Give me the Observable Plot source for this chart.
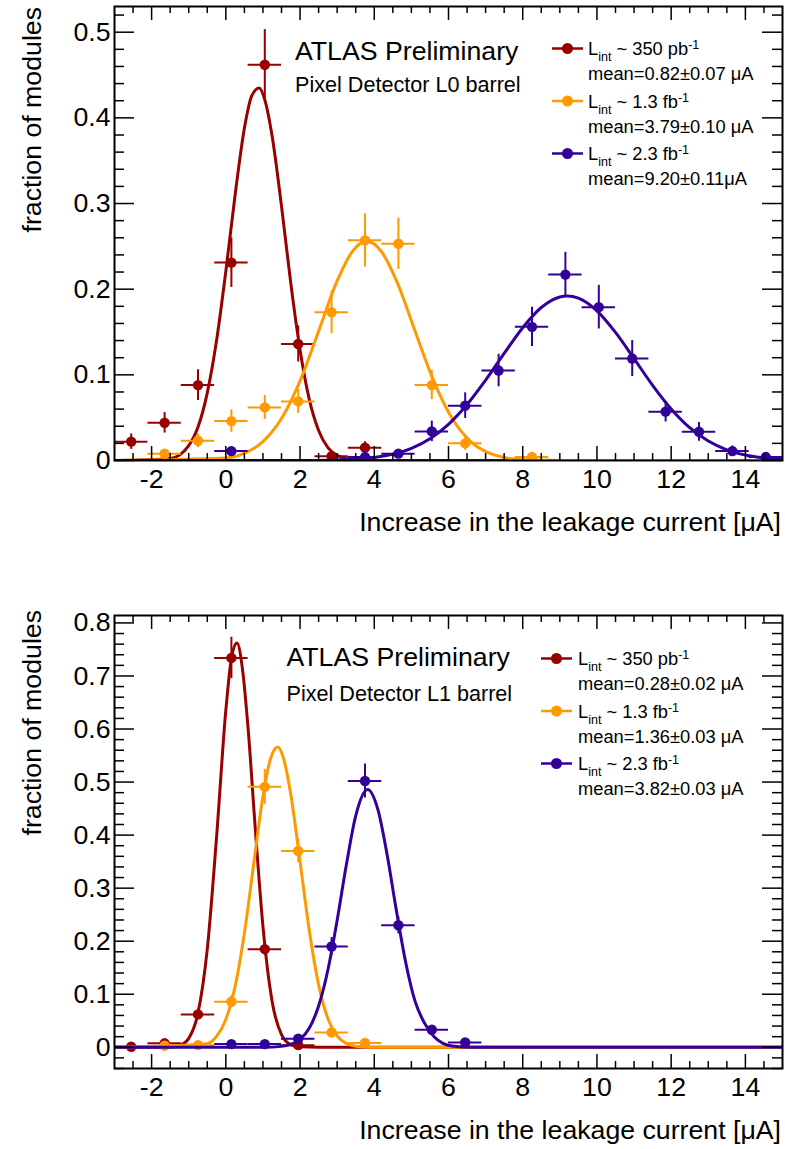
<!DOCTYPE html>
<html>
<head>
<meta charset="utf-8">
<script src="https://cdn.jsdelivr.net/npm/d3@7"></script>
<script src="https://cdn.jsdelivr.net/npm/@observablehq/plot@0.6"></script>
<style>
  html, body { margin: 0; padding: 0; background: #fff; }
  #wrap { position: relative; width: 785px; height: 1149px; font-family: "Liberation Sans", Arial, Helvetica, sans-serif; }
  #panelTop, #panelBot { position: absolute; left: 0; }
  #panelTop { top: 0; }
  #panelBot { top: 575px; }
  #panelTop svg, #panelBot svg { display: block; }
  #ov { position: absolute; left: 0; top: 0; pointer-events: none; }
</style>
</head>
<body>
<div id="wrap">
  <div id="panelTop"></div>
  <div id="panelBot"></div>
  <svg id="ov" width="785" height="1149" font-family="Liberation Sans, Arial, Helvetica, sans-serif"></svg>
</div>
<script>
// ---------- Data ----------
const colors = {r350: "#990000", r13: "#ff9900", r23: "#330099"};
const binHalfWidth = 0.45;

const xTicks = [-2, 0, 2, 4, 6, 8, 10, 12, 14];
const yTicksL0 = [0, 0.1, 0.2, 0.3, 0.4, 0.5];
const yTicksL1 = [0, 0.1, 0.2, 0.3, 0.4, 0.5, 0.6, 0.7, 0.8];

// L0 barrel
const l0_350_x = [-2.55, -1.65, -0.75, 0.15, 1.05, 1.95, 2.85, 3.75];
const l0_350_y = [0.022, 0.044, 0.088, 0.231, 0.462, 0.136, 0.005, 0.015];
const l0_350_e = [0.009, 0.012, 0.018, 0.029, 0.041, 0.021, 0.003, 0.007];

const l0_13_x = [-1.65, -0.75, 0.15, 1.05, 1.95, 2.85, 3.75, 4.65, 5.55, 6.45, 8.25];
const l0_13_y = [0.008, 0.023, 0.046, 0.062, 0.069, 0.173, 0.257, 0.253, 0.088, 0.020, 0.004];
const l0_13_e = [0.005, 0.008, 0.013, 0.014, 0.014, 0.025, 0.031, 0.030, 0.017, 0.008, 0.003];

const l0_23_x = [0.15, 3.75, 4.65, 5.55, 6.45, 7.35, 8.25, 9.15, 10.05, 10.95, 11.85, 12.75, 13.65, 14.55];
const l0_23_y = [0.011, 0.004, 0.008, 0.034, 0.064, 0.105, 0.156, 0.217, 0.179, 0.119, 0.057, 0.0335, 0.011, 0.004];
const l0_23_e = [0.005, 0.003, 0.004, 0.012, 0.015, 0.019, 0.023, 0.026, 0.0255, 0.021, 0.012, 0.011, 0.006, 0.003];

// L0 fit curves
const fitL0_350_x = [-3, -1.5, -1.0, -0.75, -0.5, -0.25, 0, 0.25, 0.5, 0.7, 0.9, 1.05, 1.25, 1.5, 1.75, 2.0, 2.25, 2.5, 2.75, 3.0, 3.5, 4.0, 15];
const fitL0_350_y = [0, 0.0024, 0.0175, 0.039, 0.079, 0.140, 0.221, 0.310, 0.388, 0.426, 0.435, 0.421, 0.378, 0.297, 0.207, 0.129, 0.071, 0.035, 0.015, 0.006, 0.0006, 0, 0];
const fitL0_13_x = [-3, 0, 0.5, 1.0, 1.5, 2.0, 2.5, 3.0, 3.4, 3.8, 4.2, 4.6, 5.1, 5.6, 6.1, 6.6, 7.1, 7.6, 8.1, 9, 15];
const fitL0_13_y = [0, 0.0028, 0.0085, 0.0221, 0.049, 0.093, 0.151, 0.2096, 0.2435, 0.256, 0.2435, 0.2096, 0.151, 0.093, 0.049, 0.0221, 0.0085, 0.0028, 0.0008, 0.0001, 0];
const fitL0_23_x = [-3, 2, 3, 4, 5, 5.5, 6, 6.5, 7, 7.5, 8, 8.5, 9, 9.2, 9.5, 10, 10.5, 11, 11.5, 12, 12.5, 13, 13.5, 14, 14.5, 15];
const fitL0_23_y = [0, 0.0001, 0.0007, 0.0035, 0.0141, 0.0254, 0.0422, 0.0653, 0.0938, 0.125, 0.155, 0.1786, 0.1909, 0.192, 0.1895, 0.1747, 0.1495, 0.1189, 0.0878, 0.0602, 0.0383, 0.0227, 0.0125, 0.0064, 0.0030, 0.0013];

// L1 barrel
const l1_350_x = [-2.55, -1.65, -0.75, 0.15, 1.05, 1.95];
const l1_350_y = [0.001, 0.0075, 0.062, 0.734, 0.185, 0.004];
const l1_350_e = [0.001, 0.003, 0.010, 0.039, 0.012, 0.002];

const l1_13_x = [-1.65, -0.75, 0.15, 1.05, 1.95, 2.85, 3.75];
const l1_13_y = [0.003, 0.004, 0.086, 0.491, 0.370, 0.028, 0.008];
const l1_13_e = [0.002, 0.003, 0.012, 0.033, 0.022, 0.008, 0.004];

const l1_23_x = [0.15, 1.05, 1.95, 2.85, 3.75, 4.65, 5.55, 6.45];
const l1_23_y = [0.006, 0.006, 0.016, 0.190, 0.502, 0.230, 0.033, 0.009];
const l1_23_e = [0.002, 0.002, 0.004, 0.017, 0.032, 0.016, 0.006, 0.003];

const fitL1_350_x = [-3, -1.5, -1.25, -1.0, -0.75, -0.5, -0.25, 0, 0.15, 0.3, 0.45, 0.6, 0.8, 1.0, 1.25, 1.5, 1.75, 2.0, 2.5, 15];
const fitL1_350_y = [0, 0.0005, 0.0033, 0.0169, 0.0646, 0.185, 0.396, 0.635, 0.733, 0.762, 0.712, 0.601, 0.406, 0.228, 0.0855, 0.0239, 0.005, 0.0008, 0, 0];
const fitL1_13_x = [-3, -0.5, -0.25, 0, 0.25, 0.5, 0.75, 1.0, 1.2, 1.4, 1.55, 1.75, 2.0, 2.25, 2.5, 2.75, 3.0, 3.25, 3.5, 4.0, 15];
const fitL1_13_y = [0, 0.0068, 0.0204, 0.0524, 0.1147, 0.215, 0.345, 0.4726, 0.543, 0.566, 0.546, 0.477, 0.350, 0.2197, 0.118, 0.0542, 0.0213, 0.0071, 0.002, 0.0001, 0];
const fitL1_23_x = [-3, 1.0, 1.5, 1.75, 2.0, 2.25, 2.5, 2.75, 3.0, 3.25, 3.5, 3.82, 4.1, 4.35, 4.6, 4.85, 5.1, 5.35, 5.6, 5.85, 6.1, 6.6, 15];
const fitL1_23_y = [0, 0.0001, 0.0017, 0.0053, 0.0149, 0.0363, 0.0777, 0.1457, 0.2395, 0.345, 0.4364, 0.486, 0.4475, 0.3615, 0.256, 0.159, 0.0866, 0.046, 0.021, 0.0075, 0.0025, 0.0002, 0];

// ---------- Helpers ----------
const zipPts = (xs, ys, es) => xs.map((x, i) => ({x, y: ys[i], e: es ? es[i] : 0}));
const fmtX = d => String(d).replace("\u2212", "-");
const fmtY = d => d === 0 ? "0" : d.toFixed(1);

function seriesMarks(pts, fit, color) {
  return [
    Plot.ruleY(pts, {y: "y", x1: d => d.x - binHalfWidth, x2: d => d.x + binHalfWidth, stroke: color, strokeWidth: 2, clip: true}),
    Plot.ruleX(pts, {x: "x", y1: d => d.y - d.e, y2: d => d.y + d.e, stroke: color, strokeWidth: 2, clip: true}),
    Plot.dot(pts, {x: "x", y: "y", r: 5.2, fill: color, stroke: null, clip: true}),
    Plot.line(fit, {x: "x", y: "y", stroke: color, strokeWidth: 3, curve: "monotone-x", clip: true})
  ];
}

function panel({height, mt, mb, yDomain, yTicks, yMinorFrom, yMinorTo, series}) {
  const ml = 114, mr = 3, W = 785;
  const fw = W - ml - mr, fh = height - mt - mb;
  const xMinor = d3.range(-2.5, 15, 0.5).filter(v => !xTicks.includes(v));
  const yMinor = d3.range(Math.round(yMinorFrom * 50), Math.round(yMinorTo * 50) + 1)
    .map(k => k / 50).filter(v => !yTicks.some(t => Math.abs(t - v) < 1e-9));
  const tk = {stroke: "#000", strokeWidth: 1.5};
  return Plot.plot({
    width: W, height,
    marginLeft: ml, marginRight: mr, marginTop: mt, marginBottom: mb,
    style: {fontFamily: "Liberation Sans, Arial, Helvetica, sans-serif", fontSize: "26.7px", background: "#fff", color: "#000"},
    x: {domain: [-3, 15]},
    y: {domain: yDomain},
    marks: [
      ...series.flatMap(s => seriesMarks(s.pts, s.fit, s.color)),
      Plot.tickX(xTicks, {x: d => d, insetTop: fh - 14, ...tk}),
      Plot.tickX(xMinor, {x: d => d, insetTop: fh - 7, ...tk}),
      Plot.tickX(xTicks, {x: d => d, insetBottom: fh - 14, ...tk}),
      Plot.tickX(xMinor, {x: d => d, insetBottom: fh - 7, ...tk}),
      Plot.tickY(yTicks, {y: d => d, insetRight: fw - 20, ...tk}),
      Plot.tickY(yMinor, {y: d => d, insetRight: fw - 10, ...tk}),
      Plot.tickY(yTicks, {y: d => d, insetLeft: fw - 20, ...tk}),
      Plot.tickY(yMinor, {y: d => d, insetLeft: fw - 10, ...tk}),
      Plot.axisX({ticks: xTicks, tickFormat: fmtX, tickSize: 0, tickPadding: 9, label: null}),
      Plot.axisY({ticks: yTicks, tickFormat: fmtY, tickSize: 0, tickPadding: 4, label: null}),
      Plot.frame({stroke: "#000", strokeWidth: 2})
    ]
  });
}

const chartTop = panel({
  height: 575, mt: 6, mb: 115, yDomain: [0, 0.53], yTicks: yTicksL0, yMinorFrom: 0, yMinorTo: 0.52,
  series: [
    {pts: zipPts(l0_350_x, l0_350_y, l0_350_e), fit: zipPts(fitL0_350_x, fitL0_350_y), color: colors.r350},
    {pts: zipPts(l0_13_x, l0_13_y, l0_13_e), fit: zipPts(fitL0_13_x, fitL0_13_y), color: colors.r13},
    {pts: zipPts(l0_23_x, l0_23_y, l0_23_e), fit: zipPts(fitL0_23_x, fitL0_23_y), color: colors.r23}
  ]
});
document.getElementById("panelTop").appendChild(chartTop);

const chartBot = panel({
  height: 574, mt: 40, mb: 81, yDomain: [-0.04, 0.814], yTicks: yTicksL1, yMinorFrom: -0.04, yMinorTo: 0.8,
  series: [
    {pts: zipPts(l1_350_x, l1_350_y, l1_350_e), fit: zipPts(fitL1_350_x, fitL1_350_y), color: colors.r350},
    {pts: zipPts(l1_13_x, l1_13_y, l1_13_e), fit: zipPts(fitL1_13_x, fitL1_13_y), color: colors.r13},
    {pts: zipPts(l1_23_x, l1_23_y, l1_23_e), fit: zipPts(fitL1_23_x, fitL1_23_y), color: colors.r23}
  ]
});
document.getElementById("panelBot").appendChild(chartBot);

// ---------- Annotations ----------
const legendL0 = [
  {color: colors.r350, lumi: "350 pb", mean: "mean=0.82\u00b10.07 \u03bcA"},
  {color: colors.r13, lumi: "1.3 fb", mean: "mean=3.79\u00b10.10 \u03bcA"},
  {color: colors.r23, lumi: "2.3 fb", mean: "mean=9.20\u00b10.11\u03bcA"}
];
const legendL1 = [
  {color: colors.r350, lumi: "350 pb", mean: "mean=0.28\u00b10.02 \u03bcA"},
  {color: colors.r13, lumi: "1.3 fb", mean: "mean=1.36\u00b10.03 \u03bcA"},
  {color: colors.r23, lumi: "2.3 fb", mean: "mean=3.82\u00b10.03 \u03bcA"}
];

const ov = d3.select("#ov");
function addText(x, y, txt, size, anchor = "start", transform = null) {
  const t = ov.append("text").attr("font-size", size).attr("fill", "#000").attr("text-anchor", anchor);
  if (transform) t.attr("transform", transform); else t.attr("x", x).attr("y", y);
  t.text(txt);
  return t;
}
function legend(entries, mx, tx, base0) {
  entries.forEach((e, i) => {
    const b = base0 + i * 52.5;
    const my = b - 6.5;
    ov.append("line").attr("x1", mx - 15.5).attr("x2", mx + 15.5).attr("y1", my).attr("y2", my)
      .attr("stroke", e.color).attr("stroke-width", 2.5);
    ov.append("circle").attr("cx", mx).attr("cy", my).attr("r", 5.5).attr("fill", e.color);
    const t = ov.append("text").attr("x", tx).attr("y", b).attr("font-size", 18.3).attr("fill", "#000");
    t.append("tspan").text("L");
    t.append("tspan").attr("font-size", 12.5).attr("dy", 6).text("int");
    t.append("tspan").attr("dy", -6).text(" ~ " + e.lumi);
    t.append("tspan").attr("font-size", 12.5).attr("dy", -6).text("-1");
    addText(tx, b + 25, e.mean, 18.3);
  });
}

addText(0, 0, "fraction of modules", 26.7, "end", "translate(41,7) rotate(-90)");
addText(781, 531, "Increase in the leakage current [\u03bcA]", 26.7, "end");
addText(295, 60, "ATLAS Preliminary", 26.7);
addText(295, 91.5, "Pixel Detector L0 barrel", 21.6);
legend(legendL0, 567.5, 588, 55);

addText(0, 0, "fraction of modules", 26.7, "end", "translate(41,610) rotate(-90)");
addText(781, 1139, "Increase in the leakage current [\u03bcA]", 26.7, "end");
addText(286.5, 666, "ATLAS Preliminary", 26.7);
addText(286.5, 700.5, "Pixel Detector L1 barrel", 21.6);
legend(legendL1, 556.5, 578, 665);
</script>
</body>
</html>
